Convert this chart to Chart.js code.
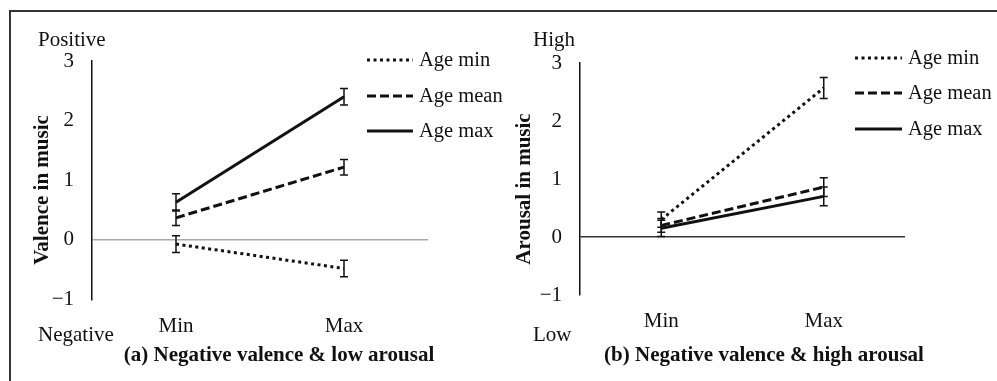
<!DOCTYPE html>
<html>
<head>
<meta charset="utf-8">
<script src="https://cdn.jsdelivr.net/npm/chart.js@4/dist/chart.umd.min.js"></script>
<style>
  body { margin: 0; background: #fff; }
  #wrap { position: relative; width: 997px; height: 381px; overflow: hidden; background: #fff; }
  #frame { position: absolute; left: 9px; top: 10px; width: 1000px; height: 400px; border-top: 2px solid #333; border-left: 2px solid #333; }
  .panel { position: absolute; top: 0; }
</style>
</head>
<body>
<div id="wrap">
  <div id="frame"></div>
  <canvas id="chartA" class="panel" style="left:0" width="520" height="381"></canvas>
  <canvas id="chartB" class="panel" style="left:497px" width="500" height="381"></canvas>
</div>
<script>
const categories = ['Min', 'Max'];
const seriesNames = ['Age min', 'Age mean', 'Age max'];

// (a) negative valence & low arousal
const valenceAgeMin = [-0.07, -0.48];
const valenceAgeMean = [0.37, 1.22];
const valenceAgeMax = [0.63, 2.40];
const valenceErrMin = [0.14, 0.14];
const valenceErrMean = [0.13, 0.13];
const valenceErrMax = [0.145, 0.14];

// (b) negative valence & high arousal
const arousalAgeMin = [0.30, 2.57];
const arousalAgeMean = [0.20, 0.86];
const arousalAgeMax = [0.15, 0.70];
const arousalErrMin = [0.13, 0.18];
const arousalErrMean = [0.12, 0.16];
const arousalErrMax = [0.14, 0.16];

const dashStyles = [[3, 3.5], [9, 4], []];
const lineWidths = [3, 3, 3];

Chart.defaults.font.family = '"Liberation Serif", "Times New Roman", serif';
Chart.defaults.font.size = 21;
Chart.defaults.color = '#111';

const extrasPlugin = {
  id: 'extras',
  afterDatasetsDraw(chart) {
    const ctx = chart.ctx, xs = chart.scales.x, ys = chart.scales.y;
    ctx.save();
    ctx.strokeStyle = '#111';
    ctx.lineWidth = 1.5;
    ctx.setLineDash([]);
    chart.data.datasets.forEach(ds => {
      ds.data.forEach((v, i) => {
        const px = xs.getPixelForValue(i);
        const top = ys.getPixelForValue(v + ds.errors[i]);
        const bot = ys.getPixelForValue(v - ds.errors[i]);
        ctx.beginPath();
        ctx.moveTo(px, top); ctx.lineTo(px, bot);
        ctx.moveTo(px - 4, top); ctx.lineTo(px + 4, top);
        ctx.moveTo(px - 4, bot); ctx.lineTo(px + 4, bot);
        ctx.stroke();
      });
    });
    ctx.restore();
  },
  afterDraw(chart) {
    const o = chart.options.plugins.extras;
    const ctx = chart.ctx;
    ctx.save();
    ctx.fillStyle = '#111';
    ctx.textBaseline = 'alphabetic';
    ctx.font = '21px "Liberation Serif", serif';
    ctx.textAlign = 'left';
    ctx.fillText(o.topLabel, o.sideX, o.topY);
    ctx.fillText(o.bottomLabel, o.sideX, o.bottomY);

    // legend
    ctx.font = '20.5px "Liberation Serif", serif';
    chart.data.datasets.forEach((ds, i) => {
      const ry = o.legendY[i];
      ctx.strokeStyle = '#111';
      ctx.lineWidth = ds.borderWidth;
      ctx.setLineDash(ds.borderDash);
      ctx.beginPath();
      ctx.moveTo(o.legendX0, ry); ctx.lineTo(o.legendX1, ry);
      ctx.stroke();
      ctx.textBaseline = 'middle';
      ctx.fillText(ds.label, o.legendTextX, ry + 1);
    });
    ctx.setLineDash([]);

    // caption
    ctx.font = 'bold 21px "Liberation Serif", serif';
    ctx.textAlign = 'center';
    ctx.textBaseline = 'alphabetic';
    ctx.fillText(o.caption, o.captionX, o.captionY);

    // y axis title
    ctx.translate(o.yTitleX, o.yTitleY);
    ctx.rotate(-Math.PI / 2);
    ctx.textBaseline = 'middle';
    ctx.fillText(o.yTitle, 0, 0);
    ctx.restore();
  }
};

function makeChart(id, series, errors, axisW, pad, zeroColor, extras) {
  const datasets = series.map((data, i) => ({
    label: seriesNames[i],
    data: data,
    errors: errors[i],
    borderColor: '#111',
    borderWidth: lineWidths[i],
    borderDash: dashStyles[i],
    pointRadius: 0,
    fill: false,
    tension: 0
  }));
  return new Chart(document.getElementById(id), {
    type: 'line',
    data: { labels: categories, datasets },
    options: {
      responsive: false,
      animation: false,
      layout: { padding: pad },
      plugins: { legend: { display: false }, tooltip: { enabled: false }, extras },
      scales: {
        x: {
          offset: true,
          grid: { display: false },
          border: { display: false },
          ticks: { padding: 6, color: '#111' },
          afterFit: s => { s.height = 60; }
        },
        y: {
          min: -1, max: 3,
          ticks: { stepSize: 1, padding: 18, color: '#111',
            callback: v => v < 0 ? '\u2212' + Math.abs(v) : v },
          grid: { drawTicks: false, lineWidth: 1.5,
            color: c => c.tick && c.tick.value === 0 ? zeroColor : 'rgba(0,0,0,0)' },
          border: { display: true, color: '#111', width: 1.5 },
          afterFit: s => { s.width = axisW; }
        }
      }
    },
    plugins: [extrasPlugin]
  });
}

makeChart('chartA',
  [valenceAgeMin, valenceAgeMean, valenceAgeMax],
  [valenceErrMin, valenceErrMean, valenceErrMax],
  92, { left: 0, top: 61, right: 92, bottom: 21.5 }, '#aaa',
  { topLabel: 'Positive', bottomLabel: 'Negative', sideX: 38, topY: 46, bottomY: 341,
    legendX0: 367, legendX1: 413, legendTextX: 419, legendY: [60, 96, 131],
    caption: '(a) Negative valence & low arousal', captionX: 279, captionY: 361,
    yTitle: 'Valence in music', yTitleX: 43, yTitleY: 190 });

makeChart('chartB',
  [arousalAgeMin, arousalAgeMean, arousalAgeMax],
  [arousalErrMin, arousalErrMean, arousalErrMax],
  83, { left: 0, top: 63, right: 92, bottom: 26 }, '#333',
  { topLabel: 'High', bottomLabel: 'Low', sideX: 36, topY: 46, bottomY: 341,
    legendX0: 358, legendX1: 405, legendTextX: 411, legendY: [58, 93, 129],
    caption: '(b) Negative valence & high arousal', captionX: 267, captionY: 361,
    yTitle: 'Arousal in music', yTitleX: 28, yTitleY: 189 });
</script>
</body>
</html>
